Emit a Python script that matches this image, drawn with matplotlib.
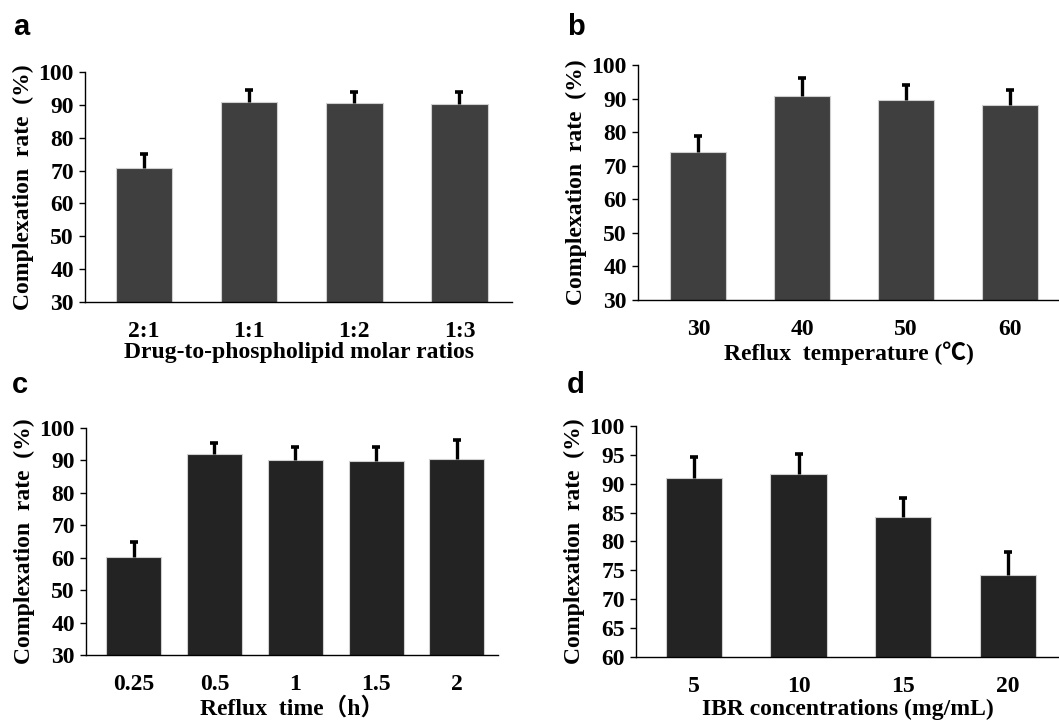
import numpy as np
import matplotlib
matplotlib.use("Agg")
import matplotlib.pyplot as plt

plt.rcParams['font.family'] = ['Liberation Serif', 'Noto Sans CJK SC', 'DejaVu Sans']
plt.rcParams['font.weight'] = 'bold'

# panel a: drug-to-phospholipid molar ratio
ratio_labels = ["2:1", "1:1", "1:2", "1:3"]
ratio_rate = [70.7, 90.9, 90.5, 90.1]
ratio_err = [4.3, 3.6, 3.5, 3.8]

# panel b: reflux temperature
temp_labels = ["30", "40", "50", "60"]
temp_rate = [74.0, 90.8, 89.7, 88.2]
temp_err = [4.8, 5.3, 4.3, 4.5]

# panel c: reflux time
time_labels = ["0.25", "0.5", "1", "1.5", "2"]
time_rate = [60.1, 91.9, 90.1, 89.7, 90.5]
time_err = [4.6, 3.6, 3.9, 4.3, 5.7]

# panel d: IBR concentration
conc_labels = ["5", "10", "15", "20"]
conc_rate = [90.9, 91.7, 84.3, 74.2]
conc_err = [3.8, 3.4, 3.2, 4.0]

panels = [
    # letter, rect, labels, values, errors, ylim, yticks, xlim, width, colour, xlabel, labelpad
    ("a", [0.0803, 0.5829, 0.4032, 0.3177], ratio_labels, ratio_rate, ratio_err,
     (30, 100), np.arange(30, 101, 10), (-0.56, 3.5), 0.54, "#3f3f3f",
     "Drug-to-phospholipid molar ratios", 0),
    ("b", [0.6025, 0.5856, 0.3975, 0.3246], temp_labels, temp_rate, temp_err,
     (30, 100), np.arange(30, 101, 10), (-0.58, 3.47), 0.54, "#3f3f3f",
     "Reflux  temperature (℃)", 1),
    ("c", [0.0812, 0.0953, 0.3891, 0.3135], time_labels, time_rate, time_err,
     (30, 100), np.arange(30, 101, 10), (-0.59, 4.51), 0.68, "#232323",
     "Reflux  time（h）", 1),
    ("d", [0.6006, 0.0930, 0.3994, 0.3186], conc_labels, conc_rate, conc_err,
     (60, 100), np.arange(60, 101, 5), (-0.555, 3.49), 0.54, "#232323",
     "IBR concentrations (mg/mL)", 1),
]

letter_pos = {"a": (0.0123, 0.9517), "b": (0.5354, 0.9517),
              "c": (0.0113, 0.4572), "d": (0.5354, 0.4572)}

fig = plt.figure(figsize=(10.59, 7.24), dpi=100)

for letter, rect, labels, vals, errs, ylim, yticks, xlim, width, colour, xlabel, lpad in panels:
    ax = fig.add_axes(rect)
    x = np.arange(len(labels))
    vals = np.array(vals)
    tops = vals + np.array(errs)
    ax.bar(x, vals, width=width, color=colour, edgecolor="#d0d0d0", linewidth=0.8, zorder=2)
    # upper error bar only
    ax.vlines(x, vals, tops, color="black", linewidth=2.4, zorder=3)
    ax.plot(x, tops, linestyle="none", marker="_", markersize=6,
            markeredgewidth=2.6, color="black", zorder=3)
    ax.set_ylim(*ylim)
    ax.set_xlim(*xlim)
    ax.set_yticks(yticks)
    ax.set_xticks(x)
    ax.set_xticklabels(labels)
    for s in ["top", "right"]:
        ax.spines[s].set_visible(False)
    for s in ["left", "bottom"]:
        ax.spines[s].set_linewidth(1.0)
    ax.tick_params(axis="y", length=4, width=1.0, pad=4, labelsize=17)
    ax.tick_params(axis="x", length=0, pad=14, labelsize=17)
    ax.set_ylabel("Complexation  rate  (%)", fontsize=17, fontweight="bold", labelpad=3)
    ax.set_xlabel(xlabel, fontsize=17, fontweight="bold", labelpad=lpad)
    fig.text(letter_pos[letter][0], letter_pos[letter][1], letter, fontsize=21,
             fontweight="bold", family=["Liberation Sans"], va="baseline")

fig.savefig("out.png", dpi=100)
